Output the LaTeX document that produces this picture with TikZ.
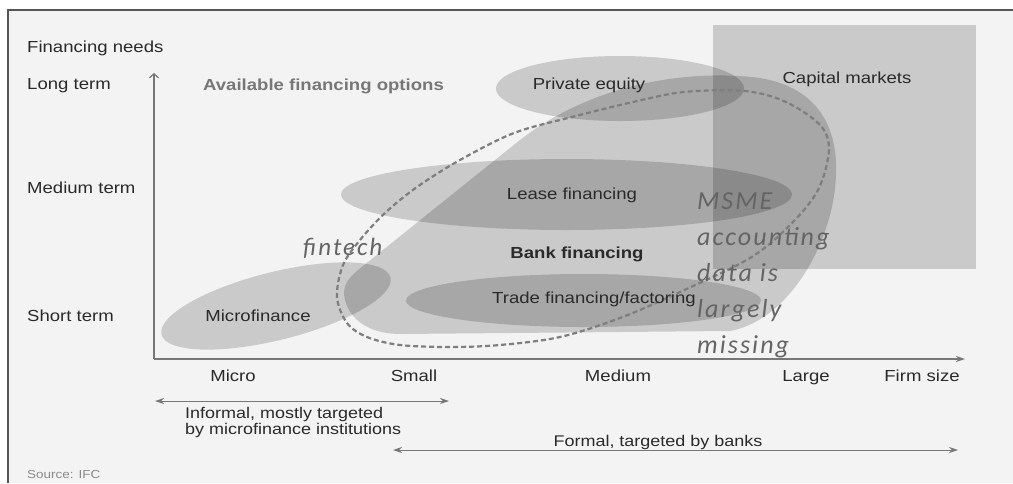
\documentclass[tikz,border=0pt]{standalone}
\usepackage{fontspec}
\setmainfont{Liberation Sans}
\newfontfamily\labfont{Liberation Sans}[FakeStretch=1.16]
\newfontfamily\handfont{Carlito}[LetterSpace=8]
\usetikzlibrary{arrows.meta}

\definecolor{paper}{HTML}{F2F3F2}
\definecolor{frame}{HTML}{555555}
\definecolor{axisgray}{HTML}{777777}
\definecolor{ink}{HTML}{2A2A2A}
\definecolor{headgray}{HTML}{777777}
\definecolor{note}{HTML}{646464}
\definecolor{loopgray}{HTML}{7E7E7E}
\definecolor{srcgray}{HTML}{8A8A8A}

\begin{document}
\begin{tikzpicture}[x=1pt,y=-1pt,
  zone/.style={fill=black, fill opacity=0.17, draw=none},
  lab/.style={font=\labfont\fontsize{16}{18}\selectfont, text=ink, inner sep=0pt},
  boldlab/.style={font=\labfont\bfseries\fontsize{16}{18}\selectfont, inner sep=0pt},
  hand/.style={font=\handfont\itshape\fontsize{25}{36}\selectfont, text=note, inner sep=0pt},
  axisline/.style={draw=axisgray, line width=1.2pt},
  span/.style={draw=axisgray, line width=1pt,
    {Stealth[length=9pt,width=6pt,inset=3pt]}-{Stealth[length=9pt,width=6pt,inset=3pt]}},
  fintechloop/.style={draw=loopgray, line width=2.2pt, dash pattern=on 5pt off 3pt}
]
\useasboundingbox (0,0) rectangle (1013,483);

% page and frame
\fill[white] (0,0) rectangle (1013,483);
\fill[paper] (8,10) rectangle (1013,483);
\draw[frame, line width=1.6pt] (8,483) -- (8,10) -- (1013,10);

% financing regions
\fill[zone] (713,24.5) rectangle (976,269);
\fill[zone] (620,88.5) ellipse [x radius=124, y radius=32.5];
\fill[zone] (345,300) .. controls (342,288) and (346,280) .. (358,270)
  -- (520,140) .. controls (600,78) and (700,70) .. (760,78)
  .. controls (820,88) and (838,130) .. (836,175)
  .. controls (834,240) and (790,320) .. (730,331)
  -- (400,334) .. controls (370,334) and (350,320) .. cycle;
\fill[zone] (566.5,194.5) ellipse [x radius=225.5, y radius=35.5];
\fill[zone] (583.5,300.5) ellipse [x radius=177.5, y radius=26.5];
\fill[zone, rotate around={14:(276,306)}] (276,306) ellipse [x radius=118, y radius=34];

% fintech reach
\draw[fintechloop] plot[smooth cycle, tension=0.55] coordinates {
  (337,297) (347,323) (367,337) (400,345) (450,347) (500,345) (560,337)
  (620,318) (680,292) (750,258) (790,225) (818,190) (829,150) (820,125)
  (786,102) (745,91) (684,92) (633,102) (572,117) (514,133) (460,160)
  (417,187) (385,213) (360,240) (343,265)};

% axes
\coordinate (origin) at (154,359);
\coordinate (ytip) at (154,73);
\coordinate (xtip) at (965,359);
\draw[axisline, -{Straight Barb[length=4pt,width=9pt]}] (origin) -- (ytip);
\draw[axisline, -{Stealth[length=9pt,width=6pt,inset=3pt]}] (origin) -- (xtip);

% size ranges
\coordinate (infL) at (155,401);
\coordinate (infR) at (449,401);
\coordinate (forL) at (393,450);
\coordinate (forR) at (958,450);
\draw[span] (infL) -- (infR);
\draw[span] (forL) -- (forR);

% vertical axis labels
\node[lab, anchor=base west] (needs) at (27,52.5) {Financing needs};
\node[lab, anchor=base west] (long) at (27,89.5) {Long term};
\node[lab, anchor=base west] (medium) at (27,193) {Medium term};
\node[lab, anchor=base west] (short) at (27,321.5) {Short term};

% horizontal axis labels
\node[lab, anchor=base] (micro) at (233,381) {Micro};
\node[lab, anchor=base] (small) at (414,381) {Small};
\node[lab, anchor=base] (med) at (618,381) {Medium};
\node[lab, anchor=base] (large) at (806,381) {Large};
\node[lab, anchor=base] (firm) at (922,381) {Firm size};

% multi-line nodes are placed by the baseline of their last line
\node[lab, anchor=base west, align=left, font=\labfont\fontsize{15.5}{16.5}\selectfont]
  (informal) at (185,434.5) {Informal, mostly targeted\\by microfinance institutions};
\node[lab, anchor=base, font=\labfont\fontsize{15.5}{16.5}\selectfont]
  (formal) at (658,446) {Formal, targeted by banks};

% titles and region names
\node[boldlab, text=headgray, anchor=base west] (title) at (203,90.5) {Available financing options};
\node[lab, anchor=base] (pe) at (589,89) {Private equity};
\node[lab, anchor=base] (cm) at (847,83) {Capital markets};
\node[lab, anchor=base] (lease) at (572,199) {Lease financing};
\node[boldlab, text=ink, anchor=base] (bank) at (577,258) {Bank financing};
\node[lab, anchor=base] (trade) at (594,303) {Trade financing/factoring};
\node[lab, anchor=base] (mf) at (258,321) {Microfinance};

% annotations
\node[hand, anchor=base west] (fintech) at (303,255) {fintech};
\node[hand, anchor=base west, align=left, font=\handfont\itshape\fontsize{26}{36}\selectfont]
  (msme) at (697,353) {MSME\\accounting\\data is\\largely\\missing};

\node[lab, anchor=base west, text=srcgray, font=\labfont\fontsize{11.6}{13}\selectfont]
  (source) at (27,478) {Source: IFC};
\end{tikzpicture}
\end{document}
